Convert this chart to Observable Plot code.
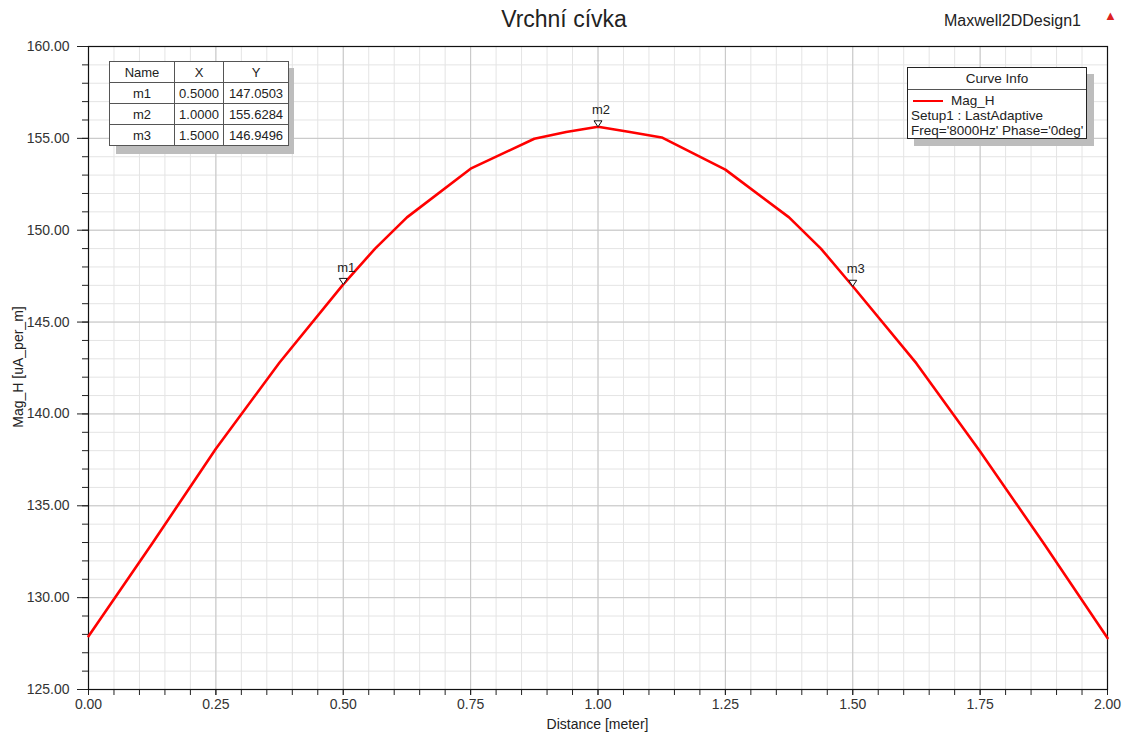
<!DOCTYPE html>
<html>
<head>
<meta charset="utf-8">
<script src="https://cdn.jsdelivr.net/npm/d3@7"></script>
<script src="https://cdn.jsdelivr.net/npm/@observablehq/plot@0.6"></script>
<style>
  html, body { margin: 0; padding: 0; background: #fff; }
  body { font-family: "Liberation Sans", Arial, sans-serif; color: #222; }
  #wrap { position: relative; width: 1128px; height: 735px; overflow: hidden; }
  #chart svg { display: block; }
  .abs { position: absolute; }
  #title { left: 0; width: 1128px; top: 6px; text-align: center; font-size: 23px; color: #222; }
  #design { left: 944px; top: 12px; font-size: 16px; color: #222; }
  #logo { left: 1104px; top: 8px; font-size: 13px; color: #d22; }
  #xlab { left: 0; width: 1195px; top: 716px; text-align: center; font-size: 14px; color: #222; }
  #ylab { left: 18px; top: 367px; width: 300px; margin-left: -150px; margin-top: -9px; text-align: center;
          font-size: 14px; color: #222; transform: rotate(-90deg); line-height: 18px; }
  .shadow { background: #bdbdbd; }
  table.mk { border-collapse: collapse; background: #fff; font-size: 13px; color: #222; }
  table.mk td { border: 1px solid #555; text-align: center; padding: 0; height: 20px; }
  table.mk { border: 1.5px solid #222; }
  #info { background: #fff; border: 1.5px solid #222; font-size: 13.5px; color: #222; box-sizing: border-box; }
  #info .hd { height: 21px; line-height: 21px; text-align: center; border-bottom: 1px solid #555; font-size: 13.5px; }
  #info .ln { padding-left: 3px; height: 15px; line-height: 15px; white-space: nowrap; }
</style>
</head>
<body>
<div id="wrap">
  <div id="chart"></div>
  <div id="title" class="abs"></div>
  <div id="design" class="abs"></div>
  <div id="logo" class="abs">▲</div>
  <div id="xlab" class="abs"></div>
  <div id="ylab" class="abs"></div>
  <div class="abs shadow" style="left:116px; top:68px; width:178px; height:86px;"></div>
  <div class="abs" id="mkbox" style="left:109px; top:61px;"></div>
  <div class="abs shadow" style="left:914px; top:74px; width:180px; height:72px;"></div>
  <div class="abs" id="info" style="left:907px; top:67px; width:180px; height:72px;"></div>
</div>
<script>
// ---- data ----
const titleText = "Vrchní cívka";
const designName = "Maxwell2DDesign1";
const xLabel = "Distance [meter]";
const yLabel = "Mag_H [uA_per_m]";
const seriesName = "Mag_H";
const setupText = "Setup1 : LastAdaptive";
const freqText = "Freq='8000Hz' Phase='0deg'";

const distance = [0, 0.125, 0.25, 0.375, 0.5, 0.5625, 0.625, 0.75, 0.875, 0.9375, 1.0,
                  1.0625, 1.125, 1.25, 1.375, 1.4375, 1.5, 1.625, 1.75, 1.875, 2.0];
const magH = [127.9, 132.95, 138.1, 142.8, 147.05, 149.0, 150.7, 153.35, 154.98, 155.35, 155.63,
              155.35, 155.05, 153.3, 150.7, 149.0, 146.95, 142.75, 137.95, 132.95, 127.8];

const markerNames = ["m1", "m2", "m3"];
const markerX = [0.5, 1.0, 1.5];
const markerY = [147.0503, 155.6284, 146.9496];

const xMajorTicks = [0, 0.25, 0.5, 0.75, 1.0, 1.25, 1.5, 1.75, 2.0];
const yMajorTicks = [125, 130, 135, 140, 145, 150, 155, 160];

// ---- derived tables ----
const curve = distance.map((d, i) => ({x: d, y: magH[i]}));
const markers = markerNames.map((n, i) => ({name: n, x: markerX[i], y: markerY[i]}));
const xMinor = d3.range(0, 41).map(i => i / 20);
const yMinor = d3.range(125, 161);

const downTriangle = {
  draw(context, size) {
    const r = Math.sqrt(size / Math.PI);
    context.moveTo(0, 0);
    context.lineTo(-r, -r * 1.5);
    context.lineTo(r, -r * 1.5);
    context.closePath();
  }
};

const chart = Plot.plot({
  width: 1128,
  height: 735,
  marginTop: 46,
  marginRight: 21,
  marginBottom: 46,
  marginLeft: 88,
  style: {fontFamily: "'Liberation Sans', Arial, sans-serif", background: "#fff", color: "#222"},
  x: {domain: [0, 2]},
  y: {domain: [125, 160]},
  marks: [
    Plot.gridX(xMinor, {stroke: "#e4e4e4", strokeOpacity: 1, strokeWidth: 1}),
    Plot.gridY(yMinor, {stroke: "#e4e4e4", strokeOpacity: 1, strokeWidth: 1}),
    Plot.gridX(xMajorTicks, {stroke: "#c6c6c6", strokeOpacity: 1, strokeWidth: 1}),
    Plot.gridY(yMajorTicks, {stroke: "#c6c6c6", strokeOpacity: 1, strokeWidth: 1}),
    Plot.axisX(xMinor, {tickSize: 6, tickFormat: () => "", label: null, stroke: "#222"}),
    Plot.axisY(yMinor, {tickSize: 6, tickFormat: () => "", label: null, stroke: "#222"}),
    Plot.axisX(xMajorTicks, {tickSize: 6, tickPadding: 4, fontSize: 14, tickFormat: d => d.toFixed(2),
      label: null, stroke: "#222", fill: "#333"}),
    Plot.axisY(yMajorTicks, {tickSize: 11, tickPadding: 8, fontSize: 14, tickFormat: d => d.toFixed(2),
      label: null, stroke: "#222", fill: "#333"}),
    Plot.frame({stroke: "#111", strokeWidth: 1.2}),
    Plot.line(curve, {x: "x", y: "y", stroke: "#ff0000", strokeWidth: 2.6}),
    Plot.dot(markers, {x: "x", y: "y", symbol: downTriangle, r: 4, fill: "#fff", stroke: "#111", strokeWidth: 1}),
    Plot.text(markers, {x: "x", y: "y", text: "name", dy: -17, dx: 3, fontSize: 13, fill: "#222"})
  ]
});
document.getElementById("chart").appendChild(chart);

// texts
document.getElementById("title").textContent = titleText;
document.getElementById("design").textContent = designName;
document.getElementById("xlab").textContent = xLabel;
document.getElementById("ylab").textContent = yLabel;

// marker table
const tbl = document.createElement("table");
tbl.className = "mk";
const widths = [64, 48, 64];
const rows = [["Name", "X", "Y"]].concat(markers.map(m => [m.name, m.x.toFixed(4), m.y.toFixed(4)]));
rows.forEach(r => {
  const tr = document.createElement("tr");
  r.forEach((c, j) => {
    const td = document.createElement("td");
    td.textContent = c;
    td.style.width = widths[j] + "px";
    tr.appendChild(td);
  });
  tbl.appendChild(tr);
});
document.getElementById("mkbox").appendChild(tbl);

// curve info legend
const info = document.getElementById("info");
info.innerHTML = `<div class="hd">Curve Info</div>
<div class="ln" style="margin-top:3px"><span style="display:inline-block;width:30px;height:0;border-top:2.5px solid #ff0000;vertical-align:middle;margin:0 8px 0 2px"></span><span></span></div>
<div class="ln"></div><div class="ln"></div>`;
const lns = info.querySelectorAll(".ln");
lns[0].lastChild.textContent = seriesName;
lns[1].textContent = setupText;
lns[2].textContent = freqText;
</script>
</body>
</html>
